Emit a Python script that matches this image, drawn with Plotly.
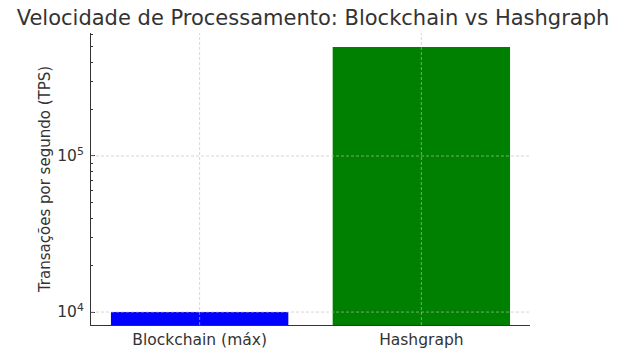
import plotly.graph_objects as go

categories = ["Blockchain (máx)", "Hashgraph"]
tps_values = [10000, 500000]
bar_colors = ["#0000ff", "#008000"]
tick_vals = [1e4, 1e5]
tick_text = ["10<sup>4</sup>", "10<sup>5</sup>"]
minor_vals = [2e4, 3e4, 4e4, 5e4, 6e4, 7e4, 8e4, 9e4, 2e5, 3e5, 4e5, 5e5, 6e5]

title_text = "Velocidade de Processamento: Blockchain vs Hashgraph"
y_title = "Transações por segundo (TPS)"

fig = go.Figure()
fig.add_trace(go.Bar(
    x=categories, y=tps_values, marker_color=bar_colors,
    marker_line_width=0, width=0.8,
))

grid = dict(color="rgba(190,190,190,0.8)", width=0.8, dash="3px,2px")
shapes = []
for c in categories:
    shapes.append(dict(type="line", xref="x", yref="paper", x0=c, x1=c, y0=0, y1=1,
                       line=grid, layer="above"))
for v in tick_vals:
    shapes.append(dict(type="line", xref="paper", yref="y", x0=0, x1=1, y0=v, y1=v,
                       line=grid, layer="above"))

fig.update_layout(
    width=626, height=354,
    margin=dict(l=91, r=96, t=33, b=29, autoexpand=False),
    paper_bgcolor="white", plot_bgcolor="white",
    font=dict(family="DejaVu Sans", color="#333333", size=15),
    title=dict(text=title_text, x=0.5, xanchor="center", y=0.949, yanchor="middle",
               font=dict(size=21, color="#333333")),
    showlegend=False,
    shapes=shapes,
)
fig.update_xaxes(
    range=[-0.49, 1.49], showgrid=False, showline=True, linecolor="#333333", linewidth=1,
    ticks="", tickfont=dict(size=15.5), zeroline=False, automargin=False,
)
fig.update_yaxes(
    type="log", range=[3.917, 5.788], showgrid=False, showline=True,
    linecolor="#333333", linewidth=1,
    tickvals=tick_vals, ticktext=tick_text, ticks="inside", ticklen=4,
    tickcolor="#333333", tickfont=dict(size=15.5), ticklabelstandoff=3,
    minor=dict(tickvals=minor_vals, ticks="inside", ticklen=2, tickcolor="#333333",
               showgrid=False),
    title=dict(text=y_title, standoff=3, font=dict(size=15)),
    zeroline=False, automargin=False,
)

fig.write_html("out.html")
